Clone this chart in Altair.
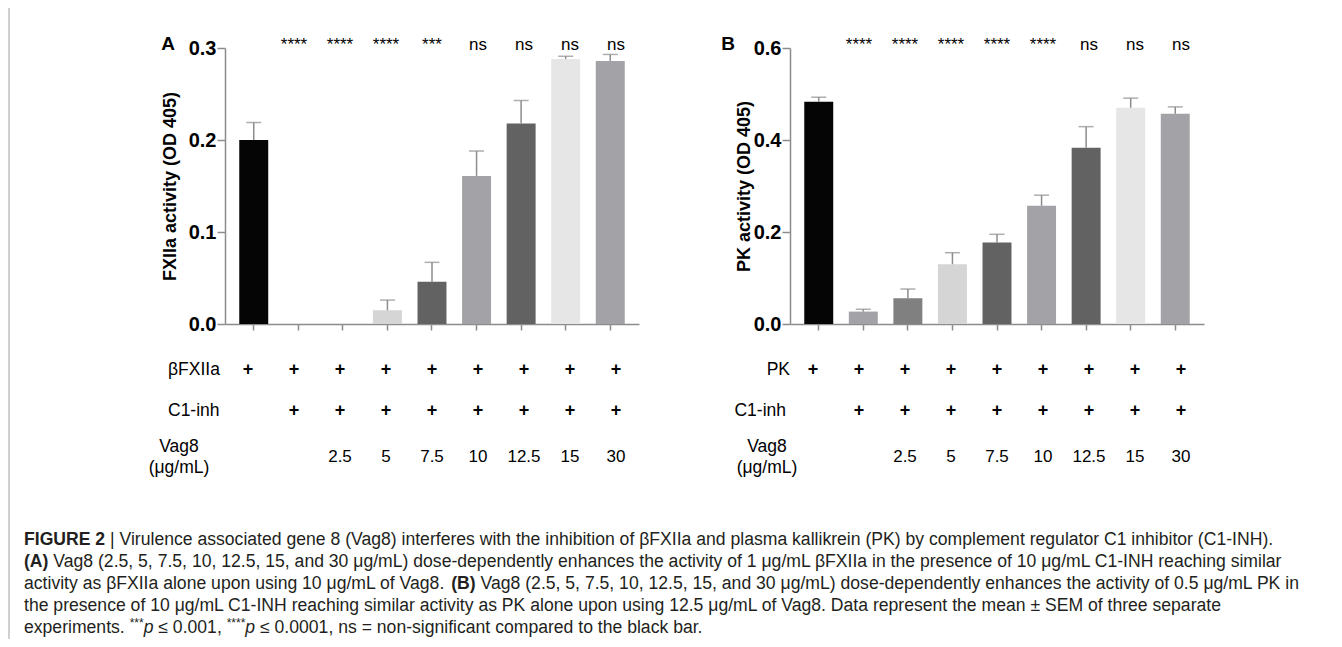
import altair as alt
import pandas as pd

# ---------------- data ----------------
conditions = ["1", "2", "3", "4", "5", "6", "7", "8", "9"]
bar_colors = ["#050505", "#a3a3a7", "#808080", "#d5d5d5", "#626262",
              "#a3a3a7", "#626262", "#e6e6e6", "#a3a3a7"]

fxiia_mean = [0.200, 0.0, 0.0, 0.015, 0.046, 0.161, 0.218, 0.288, 0.286]
fxiia_sem = [0.019, 0.0, 0.0, 0.011, 0.021, 0.027, 0.025, 0.003, 0.007]
fxiia_sig = ["", "****", "****", "****", "***", "ns", "ns", "ns", "ns"]

pk_mean = [0.483, 0.027, 0.056, 0.130, 0.177, 0.257, 0.383, 0.470, 0.457]
pk_sem = [0.010, 0.005, 0.020, 0.025, 0.018, 0.023, 0.046, 0.021, 0.015]
pk_sig = ["", "****", "****", "****", "****", "****", "ns", "ns", "ns"]

enzyme_row = ["+", "+", "+", "+", "+", "+", "+", "+", "+"]
c1inh_row = ["", "+", "+", "+", "+", "+", "+", "+", "+"]
vag8_row = ["", "", "2.5", "5", "7.5", "10", "12.5", "15", "30"]

fxiia_ticks = [0.0, 0.1, 0.2, 0.3]
pk_ticks = [0.0, 0.2, 0.4, 0.6]

caption_lines = [
    [("FIGURE 2", "bold"), ("| Virulence associated gene 8 (Vag8) interferes with the inhibition of \u03b2FXIIa and plasma kallikrein (PK) by complement regulator C1 inhibitor (C1-INH).", "normal")],
    [("(A)", "bold"), ("Vag8 (2.5, 5, 7.5, 10, 12.5, 15, and 30 \u03bcg/mL) dose-dependently enhances the activity of 1 \u03bcg/mL \u03b2FXIIa in the presence of 10 \u03bcg/mL C1-INH reaching similar", "normal")],
    [("activity as \u03b2FXIIa alone upon using 10 \u03bcg/mL of Vag8.", "normal"), ("(B)", "bold"), ("Vag8 (2.5, 5, 7.5, 10, 12.5, 15, and 30 \u03bcg/mL) dose-dependently enhances the activity of 0.5 \u03bcg/mL PK in", "normal")],
    [("the presence of 10 \u03bcg/mL C1-INH reaching similar activity as PK alone upon using 12.5 \u03bcg/mL of Vag8. Data represent the mean \u00b1 SEM of three separate", "normal")],
    [("experiments.", "normal"), ("***", "sup"), ("p", "italic"), ("\u2264 0.001,", "normal"), ("****", "sup"), ("p", "italic"), ("\u2264 0.0001, ns = non-significant compared to the black bar.", "normal")],
]

# ---------------- layout ----------------
W, H = 1326, 631
M = 8
FONT = "Liberation Sans"
AXIS_GREY = "#8c8c8c"
CAP_SIZE = 17.6
SUP_SIZE = 12
CAP_X0 = 24

# Arial / Liberation Sans advance widths (per 1000 em), used to chain caption segments
REG = {" ": 278, "(": 333, ")": 333, "*": 389, ",": 278, "-": 333, ".": 278, "/": 278,
       "=": 584, "|": 260, "\u03b2": 575, "\u03bc": 576, "\u2264": 549, "\u00b1": 584}
for ch in "0123456789":
    REG[ch] = 556
REG.update({"A": 667, "B": 667, "C": 722, "D": 722, "E": 667, "F": 611, "G": 778, "H": 722,
            "I": 278, "K": 667, "L": 556, "M": 833, "N": 722, "O": 778, "P": 667, "R": 722,
            "S": 667, "T": 611, "U": 722, "V": 667, "X": 667,
            "a": 556, "b": 556, "c": 500, "d": 556, "e": 556, "f": 278, "g": 556, "h": 556,
            "i": 222, "j": 222, "k": 500, "l": 222, "m": 833, "n": 556, "o": 556, "p": 556,
            "q": 556, "r": 333, "s": 500, "t": 278, "u": 556, "v": 500, "w": 722, "x": 500,
            "y": 500, "z": 500})
BOLD = dict(REG)
BOLD.update({"A": 722, "B": 722, "G": 778, "U": 722, "R": 722, "(": 333, ")": 333})


def text_width(s, size, bold=False):
    table = BOLD if bold else REG
    return sum(table.get(c, 556) for c in s) * size / 1000.0


def px(x):
    return x - M


def py(y):
    return y - M


Y0, Y1 = 324, 48  # page y of value 0 and of axis max


def make_df(mean, sem, sig):
    return pd.DataFrame({
        "cond": conditions,
        "mean": mean,
        "sem": sem,
        "top": [m + s for m, s in zip(mean, sem)],
        "color": bar_colors,
        "sig": sig,
        "enz": enzyme_row,
        "c1": c1inh_row,
        "vag": vag8_row,
    })


def text_layer(text, x, y, size=15, weight="normal", align="left",
               baseline="middle", style="normal", color="#000000"):
    return alt.Chart(pd.DataFrame({"t": [text]})).mark_text(
        font=FONT, fontSize=size, fontWeight=weight, align=align,
        baseline=baseline, fontStyle=style, color=color,
    ).encode(x=alt.value(px(x)), y=alt.value(py(y)), text="t:N")


def panel(df, x0, x1, ymax, yvals, ytitle, title_dx, letter, letter_x,
          enz_label, enz_x, enz_align, c1_x, c1_align, vag_x):
    xs = alt.Scale(domain=conditions, range=[px(x0), px(x1)],
                   paddingInner=0.35, paddingOuter=0.32)
    ys = alt.Scale(domain=[0, ymax], range=[py(Y0), py(Y1)], nice=False, zero=False)
    x_noaxis = alt.X("cond:N", scale=xs, sort=conditions, axis=None)

    x_axis = alt.Axis(orient="bottom", offset=py(Y0) - H, labels=False, title=None,
                      tickSize=6, tickColor=AXIS_GREY, tickWidth=1.5,
                      domainColor=AXIS_GREY, domainWidth=1.5, grid=False)
    y_axis = alt.Axis(orient="left", offset=-px(x0), values=yvals, format=".1f",
                      labelFont=FONT, labelFontSize=20, labelFontWeight="bold",
                      labelColor="#000000", labelPadding=1,
                      tickSize=8, tickColor=AXIS_GREY, tickWidth=1.5,
                      domainColor=AXIS_GREY, domainWidth=1.5, grid=False,
                      title=ytitle, titleFont=FONT, titleFontSize=18,
                      titleFontWeight="bold", titleColor="#000000",
                      titleX=-title_dx, titleY=py((Y0 + Y1) / 2), titleAngle=-90,
                      titleAlign="center", titleBaseline="middle")

    bars = alt.Chart(df).mark_bar().encode(
        x=alt.X("cond:N", scale=xs, sort=conditions, axis=x_axis),
        y=alt.Y("mean:Q", scale=ys, axis=y_axis),
        color=alt.Color("color:N", scale=None),
    )
    err = alt.Chart(df).transform_filter("datum.sem > 0").mark_rule(
        color=AXIS_GREY, strokeWidth=1.5
    ).encode(
        x=x_noaxis,
        y=alt.Y("mean:Q", scale=ys, axis=None),
        y2="top:Q",
    )
    caps = alt.Chart(df).transform_filter("datum.sem > 0").mark_tick(
        color=AXIS_GREY, thickness=1.5, size=15
    ).encode(
        x=x_noaxis,
        y=alt.Y("top:Q", scale=ys, axis=None),
    )
    sig = alt.Chart(df).mark_text(
        font=FONT, fontSize=17, baseline="alphabetic", color="#000000"
    ).encode(x=x_noaxis, y=alt.value(py(50)), text="sig:N")
    enz = alt.Chart(df).mark_text(
        font=FONT, fontSize=18, fontWeight="bold", baseline="middle", color="#000000"
    ).encode(x=x_noaxis, y=alt.value(py(370)), text="enz:N")
    c1 = alt.Chart(df).mark_text(
        font=FONT, fontSize=18, fontWeight="bold", baseline="middle", color="#000000"
    ).encode(x=x_noaxis, y=alt.value(py(411)), text="c1:N")
    vag = alt.Chart(df).mark_text(
        font=FONT, fontSize=17, baseline="middle", color="#000000"
    ).encode(x=x_noaxis, y=alt.value(py(457)), text="vag:N")

    labels = [
        text_layer(letter, letter_x, 44, size=19, weight="bold", align="center"),
        text_layer(enz_label, enz_x, 370, size=17.5, align=enz_align),
        text_layer("C1-inh", c1_x, 411, size=17.5, align=c1_align),
        text_layer("Vag8", vag_x, 447, size=17.5, align="center"),
        text_layer("(\u03bcg/mL)", vag_x, 468, size=17.5, align="center"),
    ]
    return [bars, err, caps, sig, enz, c1, vag] + labels


layers = []
layers += panel(make_df(fxiia_mean, fxiia_sem, fxiia_sig), 225, 639, 0.3, fxiia_ticks,
                "FXIIa activity (OD 405)", 55, "A", 168,
                "\u03b2FXIIa", 168, "left", 168, "left", 179)
layers += panel(make_df(pk_mean, pk_sem, pk_sig), 790, 1204, 0.6, pk_ticks,
                "PK activity (OD 405)", 46, "B", 728,
                "PK", 790, "right", 786, "right", 767)

# caption: segments chained left to right on each line
line_y = [540, 562, 584, 606, 628]
CAP = "#231f20"
space = text_width(" ", CAP_SIZE)
for segs, yy in zip(caption_lines, line_y):
    xx = CAP_X0
    for (txt, kind) in segs:
        if kind == "bold":
            layers.append(text_layer(txt, xx, yy, size=CAP_SIZE, weight="bold", color=CAP))
            xx += text_width(txt, CAP_SIZE, bold=True) + space
        elif kind == "italic":
            layers.append(text_layer(txt, xx, yy, size=CAP_SIZE, style="italic", color=CAP))
            xx += text_width(txt, CAP_SIZE) + space
        elif kind == "sup":
            layers.append(text_layer(txt, xx, yy - 5, size=SUP_SIZE, color=CAP))
            xx += text_width(txt, SUP_SIZE)
        else:
            layers.append(text_layer(txt, xx, yy, size=CAP_SIZE, color=CAP))
            xx += text_width(txt, CAP_SIZE) + space

# left frame line
layers.append(
    alt.Chart(pd.DataFrame({"t": [0]})).mark_rule(color="#a0a0a0", strokeWidth=1).encode(
        x=alt.value(px(9)), y=alt.value(0), y2=alt.value(H)
    )
)

chart = alt.layer(*layers).resolve_scale(
    x="independent", y="independent"
).properties(
    width=W, height=H, padding=0,
    autosize=alt.AutoSizeParams(type="none"),
).configure(font=FONT).configure_view(stroke=None)

chart.save("out.html", embed_options={"renderer": "svg", "actions": False})
